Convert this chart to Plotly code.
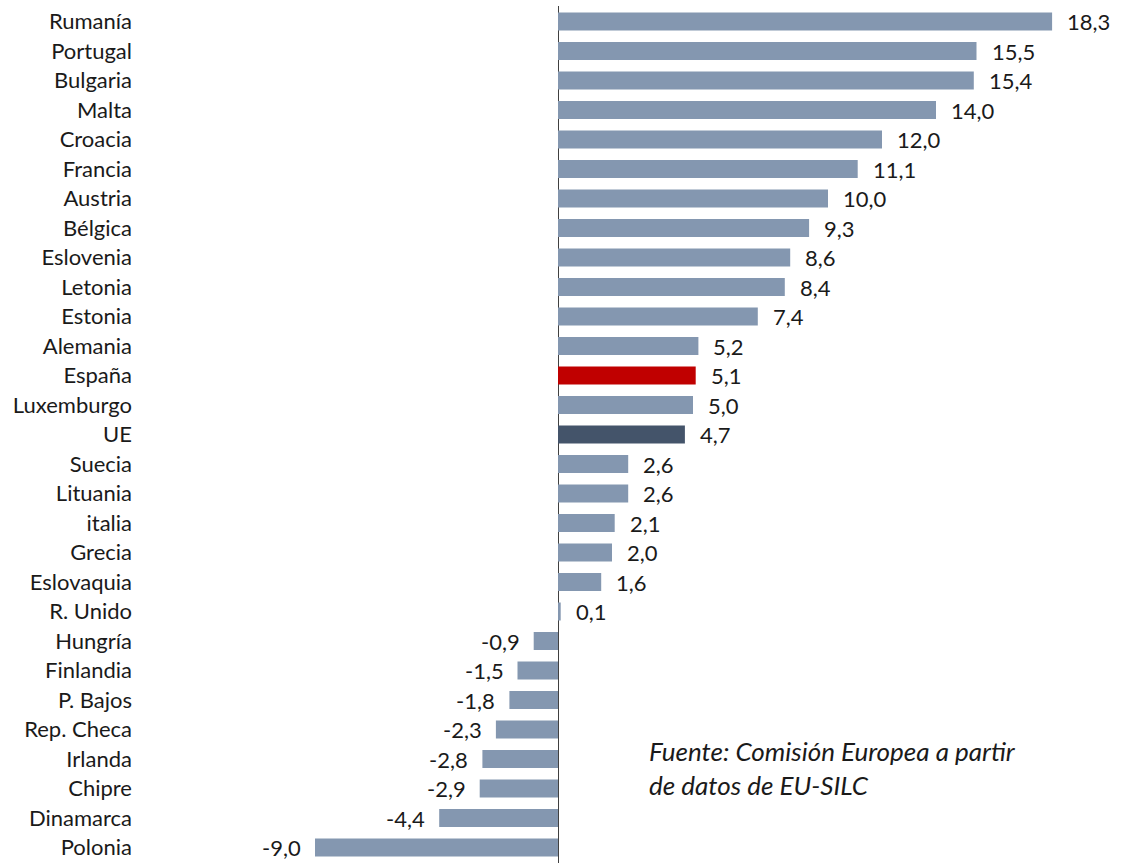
import plotly.graph_objects as go

countries = ["Rumanía", "Portugal", "Bulgaria", "Malta", "Croacia", "Francia", "Austria",
             "Bélgica", "Eslovenia", "Letonia", "Estonia", "Alemania", "España", "Luxemburgo",
             "UE", "Suecia", "Lituania", "italia", "Grecia", "Eslovaquia", "R. Unido",
             "Hungría", "Finlandia", "P. Bajos", "Rep. Checa", "Irlanda", "Chipre",
             "Dinamarca", "Polonia"]
values = [18.3, 15.5, 15.4, 14.0, 12.0, 11.1, 10.0, 9.3, 8.6, 8.4, 7.4, 5.2, 5.1, 5.0,
          4.7, 2.6, 2.6, 2.1, 2.0, 1.6, 0.1, -0.9, -1.5, -1.8, -2.3, -2.8, -2.9, -4.4, -9.0]
source_note = "Fuente: Comisión Europea a partir<br>de datos de EU-SILC"

BASE = "#8497B0"
SPAIN = "#C00000"
EU = "#44546A"
colors = [SPAIN if c == "España" else EU if c == "UE" else BASE for c in countries]
FONT = "Lato"
W, H = 1125, 863
L, R, T, B = 140, 0, 6, 0

fig = go.Figure(go.Bar(
    x=values, y=countries, orientation="h",
    marker=dict(color=colors, line=dict(width=0)),
    hoverinfo="x+y",
))

for c, v in zip(countries, values):
    fig.add_annotation(
        x=v, y=c, xref="x", yref="y",
        text=f"{v:.1f}".replace(".", ","),
        showarrow=False,
        xanchor="left" if v >= 0 else "right",
        xshift=13 if v >= 0 else -12,
        font=dict(family=FONT, size=22, color="#1a1a1a"),
    )

fig.add_annotation(
    x=(647 - L) / (W - L - R), y=(H - 768) / (H - T - B), xref="paper", yref="paper",
    text=source_note, showarrow=False, align="left", xanchor="left", yanchor="middle",
    font=dict(family=FONT, size=26, color="#1a1a1a", style="italic"),
)

fig.update_layout(
    width=W, height=H,
    margin=dict(l=L, r=R, t=T, b=B),
    paper_bgcolor="white", plot_bgcolor="white",
    bargap=0.39,
    showlegend=False,
    xaxis=dict(range=[-(558 - L) / 27.0, (W - 558) / 27.0], automargin=False,
               showgrid=False, showticklabels=False, ticks="",
               zeroline=True, zerolinecolor="#404040", zerolinewidth=1.2),
    yaxis=dict(autorange="reversed", showgrid=False, ticks="", automargin=False,
               ticklabelstandoff=7,
               tickfont=dict(family=FONT, size=22, color="#1a1a1a")),
)

fig.write_html("out.html",
               config={"displayModeBar": False},
               post_script="document.body.style.margin='0';document.body.style.overflow='hidden';")
